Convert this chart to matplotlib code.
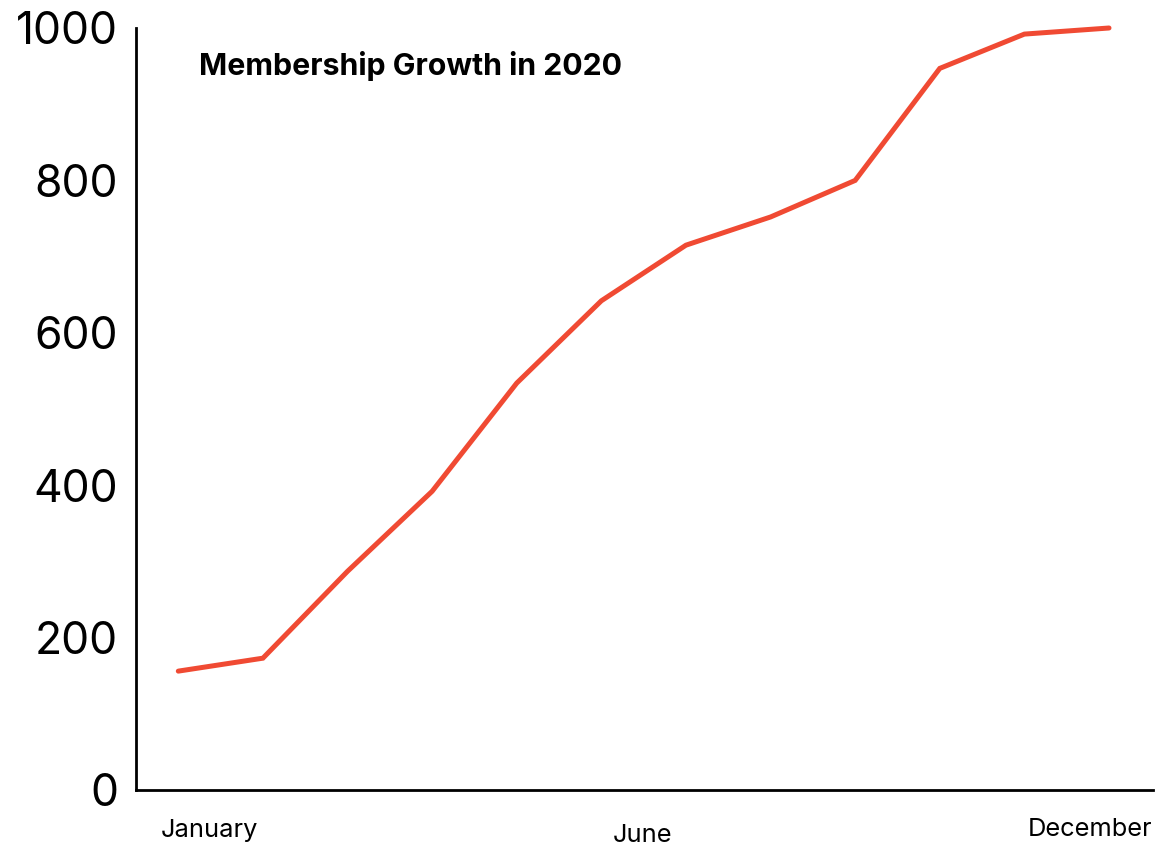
import matplotlib
matplotlib.use("Agg")
import matplotlib.pyplot as plt

months = ["January", "February", "March", "April", "May", "June", "July",
          "August", "September", "October", "November", "December"]
members = [156, 173, 287, 392, 534, 642, 715, 752, 800, 947, 992, 1000]
y_ticks = [0, 200, 400, 600, 800, 1000]
label_months = ["January", "June", "December"]
title = "Membership Growth in 2020"

plt.rcParams['font.family'] = ['Inter', 'DejaVu Sans']

fig = plt.figure(figsize=(11.57, 8.48), dpi=100)
ax = fig.add_axes([136/1157, 58/848, (1153-136)/1157, (790-28)/848])

x = list(range(len(months)))
ax.plot(x, members, color="#f04a33", linewidth=3.6, solid_capstyle="round",
        solid_joinstyle="miter", clip_on=False)

ax.set_xlim(-0.5, 11.52)
ax.set_ylim(0, 1000)
ax.set_yticks(y_ticks)
ax.set_yticklabels([str(v) for v in y_ticks], fontsize=32)
ax.tick_params(axis="y", length=0, pad=13)
ax.set_xticks([])

for side in ("top", "right"):
    ax.spines[side].set_visible(False)
for side in ("left", "bottom"):
    ax.spines[side].set_linewidth(2)
    ax.spines[side].set_color("black")

# month labels placed below the axis
offsets = {"January": (0.37, -0.0617), "June": (5.49, -0.0682), "December": (10.78, -0.0604)}
for m in label_months:
    dx, dy = offsets[m]
    ax.text(dx, dy, m, transform=ax.get_xaxis_transform(), ha="center",
            va="baseline", fontsize=18.3)

ax.text(0.062, 0.938, title, transform=ax.transAxes, fontsize=21.8,
        fontweight="bold", ha="left", va="baseline")

fig.savefig("out.png", dpi=100)
